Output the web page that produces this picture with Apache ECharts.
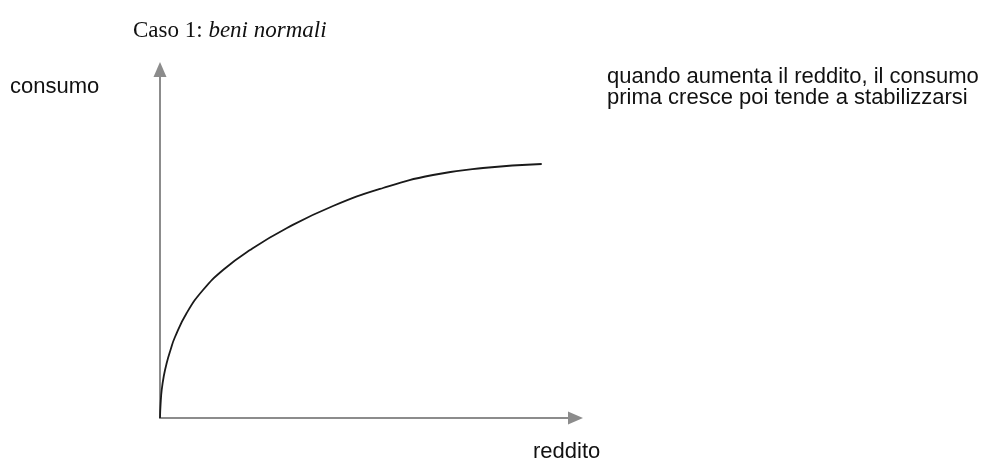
<!DOCTYPE html>
<html>
<head>
<meta charset="utf-8">
<script src="https://cdn.jsdelivr.net/npm/echarts@6/dist/echarts.min.js"></script>
<style>
html,body{margin:0;padding:0;background:#fff;}
#chart{width:998px;height:468px;}
</style>
</head>
<body>
<div id="chart"></div>
<script>
// Curve readings: reddito (x) vs consumo (y), in chart units
var reddito = [0, 0.6, 1.7, 3.8, 6.7, 10.5, 15, 26.7, 43, 63, 90, 127, 173, 223, 273, 323, 381.7];
var consumo = [0, 14, 28, 42, 55, 68, 81, 105, 128, 148, 168, 190, 212, 230, 243, 250, 254];
var xMax = 415.5;
var yMax = 348.5;

var titlePlain = 'Caso 1: ';
var titleItalic = 'beni normali';
var yName = 'consumo';
var xName = 'reddito';
var noteLines = ['quando aumenta il reddito, il consumo', 'prima cresce poi tende a stabilizzarsi'];

var chart = echarts.init(document.getElementById('chart'), null, {renderer: 'canvas'});
var pts = reddito.map(function (x, i) { return [x, consumo[i]]; });

var axisLineStyle = {color: '#8c8c8c', width: 2};

chart.setOption({
  backgroundColor: '#ffffff',
  animation: false,
  title: {
    text: '{a|' + titlePlain + '}{b|' + titleItalic + '}',
    left: 128,
    top: 14,
    textStyle: {
      fontWeight: 'normal',
      rich: {
        a: {fontFamily: 'Liberation Serif', fontSize: 23, fontWeight: 'normal', color: '#111'},
        b: {fontFamily: 'Liberation Serif', fontSize: 23, fontWeight: 'normal', fontStyle: 'italic', color: '#111'}
      }
    }
  },
  grid: {left: 160, top: 69.5, right: 422.5, bottom: 50, containLabel: false},
  xAxis: {
    type: 'value', min: 0, max: xMax,
    axisLine: {show: true, lineStyle: axisLineStyle, symbol: ['none', 'triangle'], symbolSize: [13, 15]},
    axisTick: {show: false}, axisLabel: {show: false}, splitLine: {show: false}
  },
  yAxis: {
    type: 'value', min: 0, max: yMax,
    axisLine: {show: true, lineStyle: axisLineStyle, symbol: ['none', 'triangle'], symbolSize: [13, 15]},
    axisTick: {show: false}, axisLabel: {show: false}, splitLine: {show: false}
  },
  graphic: [
    {type: 'text', left: 10, top: 76, style: {text: yName, font: '22px "Liberation Sans"', fill: '#111'}},
    {type: 'text', left: 533, top: 441, style: {text: xName, font: '22px "Liberation Sans"', fill: '#111'}},
    {type: 'text', left: 607, top: 66, style: {text: noteLines.join('\n'), font: '22px "Liberation Sans"', lineHeight: 21, fill: '#111'}}
  ],
  series: [{
    type: 'line',
    data: pts,
    smooth: 0.5,
    showSymbol: false,
    lineStyle: {color: '#1a1a1a', width: 1.8}
  }]
});
</script>
</body>
</html>
